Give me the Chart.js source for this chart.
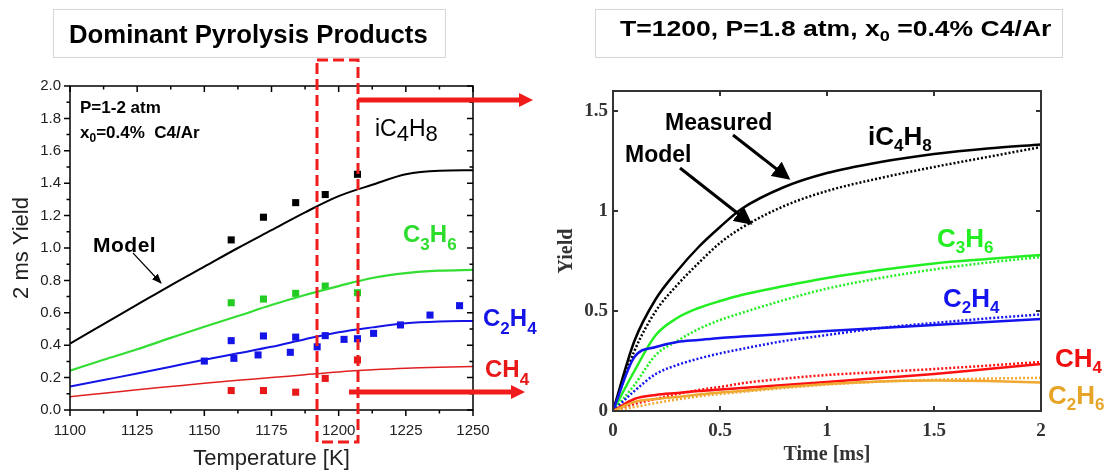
<!DOCTYPE html>
<html>
<head>
<meta charset="utf-8">
<script src="https://cdn.jsdelivr.net/npm/chart.js@4.4.1/dist/chart.umd.min.js"></script>
<style>
  body { margin: 0; width: 1107px; height: 473px; position: relative; overflow: hidden; background: #fff;
         font-family: "Liberation Sans", Arial, sans-serif; }
  .wrap { position: absolute; top: 0; }
  .tbox { position: absolute; border: 1px solid #d6d6d6; background: #fff; box-sizing: border-box; }
  .ttext { position: absolute; white-space: nowrap; font-weight: bold; line-height: 1; color: #000; transform-origin: 0 0; }
  .lab { position: absolute; white-space: nowrap; line-height: 1; }
  .b { font-weight: bold; }
  .s { position: relative; }
  svg { position: absolute; left: 0; top: 0; }
</style>
</head>
<body>
<div class="wrap" style="left:0;width:540px;height:473px"><canvas id="leftChart" width="540" height="473"></canvas></div>
<div class="wrap" style="left:540px;width:567px;height:473px"><canvas id="rightChart" width="567" height="473"></canvas></div>

<div class="tbox" style="left:53px;top:9px;width:393px;height:49px"></div>
<div class="tbox" style="left:595px;top:9px;width:468px;height:49px"></div>
<span class="ttext" id="titleL" style="font-size:25px">Dominant Pyrolysis Products</span>
<span class="ttext" id="titleR" style="font-size:22px">T=1200, P=1.8 atm, x<span class="s" style="font-size:15px;top:5px">0</span> =0.4% C4/Ar</span>

<svg width="1107" height="473">
  <defs>
    <marker id="headK" markerWidth="6" markerHeight="6" refX="5" refY="3" orient="auto" markerUnits="strokeWidth">
      <path d="M0,0 L6,3 L0,6 z" fill="#000"/>
    </marker>
    <marker id="headS" markerWidth="10" markerHeight="8" refX="9" refY="4" orient="auto" markerUnits="userSpaceOnUse">
      <path d="M0,0 L10,4 L0,8 z" fill="#000"/>
    </marker>
  </defs>
  <rect x="317" y="60" width="41" height="382" fill="none" stroke="#f01c1c" stroke-width="3" stroke-dasharray="11 5"/>
  <line x1="358" y1="100" x2="521" y2="100" stroke="#f01c1c" stroke-width="5"/>
  <path d="M519,93 L533,100 L519,107 z" fill="#f01c1c"/>
  <line x1="349" y1="392" x2="513" y2="392" stroke="#f01c1c" stroke-width="5"/>
  <path d="M511,385 L525,392 L511,399 z" fill="#f01c1c"/>
  <line x1="133" y1="253" x2="161" y2="283" stroke="#000" stroke-width="1.2" marker-end="url(#headS)"/>
  <line x1="733" y1="135" x2="788" y2="178" stroke="#000" stroke-width="3" marker-end="url(#headK)"/>
  <line x1="680" y1="168" x2="750" y2="223" stroke="#000" stroke-width="3" marker-end="url(#headK)"/>
</svg>

<!-- left panel notes -->
<div class="lab b" style="left:80px;top:99px;font-size:17px">P=1-2 atm</div>
<div class="lab b" style="left:80px;top:124px;font-size:17px">x<span class="s" style="font-size:12px;top:4px">0</span>=0.4%&nbsp; C4/Ar</div>
<div class="lab b" style="left:93px;top:234px;font-size:21px;letter-spacing:0.5px">Model</div>
<div class="lab" style="left:375px;top:117px;font-size:23px">iC<span class="s" style="font-size:22px;top:5px">4</span>H<span class="s" style="font-size:22px;top:5px">8</span></div>
<div class="lab b" style="left:403px;top:222px;font-size:24px;color:#2edc2e">C<span class="s" style="font-size:17px;top:8px">3</span>H<span class="s" style="font-size:17px;top:8px">6</span></div>
<div class="lab b" style="left:483px;top:306px;font-size:24px;color:#1414e6">C<span class="s" style="font-size:17px;top:8px">2</span>H<span class="s" style="font-size:17px;top:8px">4</span></div>
<div class="lab b" style="left:485px;top:357px;font-size:24px;color:#e81818">CH<span class="s" style="font-size:17px;top:8px">4</span></div>

<!-- right panel notes -->
<div class="lab b" style="left:665px;top:111px;font-size:23px">Measured</div>
<div class="lab b" style="left:625px;top:143px;font-size:23px">Model</div>
<div class="lab b" style="left:868px;top:123px;font-size:26px">iC<span class="s" style="font-size:17px;top:6px">4</span>H<span class="s" style="font-size:17px;top:6px">8</span></div>
<div class="lab b" style="left:937px;top:225px;font-size:26px;color:#22ee22">C<span class="s" style="font-size:17px;top:6px">3</span>H<span class="s" style="font-size:17px;top:6px">6</span></div>
<div class="lab b" style="left:943px;top:285px;font-size:26px;color:#1414ee">C<span class="s" style="font-size:17px;top:6px">2</span>H<span class="s" style="font-size:17px;top:6px">4</span></div>
<div class="lab b" style="left:1055px;top:345px;font-size:26px;color:#f01010">CH<span class="s" style="font-size:17px;top:6px">4</span></div>
<div class="lab b" style="left:1048px;top:382px;font-size:26px;color:#e6a526">C<span class="s" style="font-size:17px;top:6px">2</span>H<span class="s" style="font-size:17px;top:6px">6</span></div>

<script>
// ---- left panel: 2 ms yield vs temperature ----
const tempGrid = [1100, 1112.5, 1125, 1137.5, 1150, 1162.5, 1175, 1187.5, 1200, 1212.5, 1225, 1237.5, 1250];
const lineIC4H8 = [0.41, 0.53, 0.65, 0.77, 0.885, 1.0, 1.11, 1.22, 1.32, 1.39, 1.455, 1.477, 1.48];
const lineC3H6 = [0.243, 0.31, 0.375, 0.445, 0.514, 0.58, 0.648, 0.71, 0.765, 0.815, 0.845, 0.86, 0.865];
const lineC2H4 = [0.145, 0.185, 0.225, 0.267, 0.31, 0.35, 0.39, 0.437, 0.48, 0.51, 0.535, 0.546, 0.55];
const lineCH4 = [0.082, 0.103, 0.125, 0.145, 0.165, 0.183, 0.2, 0.218, 0.235, 0.248, 0.258, 0.264, 0.268];

const expTemps = [1160, 1172, 1184, 1195, 1207];
const ptsIC4H8 = [1.05, 1.19, 1.28, 1.33, 1.455];
const ptsC3H6 = [0.662, 0.685, 0.72, 0.765, 0.724];
const ptsCH4 = [0.12, 0.12, 0.11, 0.195, 0.309];
const c2h4Temps = [1150, 1160, 1161, 1172, 1170, 1184, 1182, 1192, 1195, 1202, 1207, 1213, 1223, 1234, 1245];
const ptsC2H4 = [0.302, 0.428, 0.319, 0.457, 0.34, 0.45, 0.356, 0.39, 0.459, 0.436, 0.44, 0.473, 0.525, 0.586, 0.644];

// ---- right panel: yield vs time at 1200 K ----
const timeMs = [0, 0.1, 0.2, 0.3, 0.4, 0.5, 0.6, 0.8, 1.0, 1.25, 1.5, 1.75, 2.0];
const measIC4H8 = [0, 0.35, 0.56, 0.70, 0.82, 0.92, 1.01, 1.12, 1.19, 1.245, 1.285, 1.313, 1.333];
const simIC4H8 = [0, 0.3, 0.5, 0.63, 0.74, 0.84, 0.915, 1.025, 1.10, 1.165, 1.22, 1.27, 1.32];
const measC3H6 = [0, 0.2, 0.38, 0.465, 0.515, 0.55, 0.58, 0.625, 0.665, 0.705, 0.738, 0.76, 0.78];
const simC3H6 = [0, 0.13, 0.28, 0.35, 0.41, 0.455, 0.49, 0.555, 0.612, 0.665, 0.708, 0.742, 0.77];
const measC2H4 = [0, 0.27, 0.32, 0.345, 0.355, 0.365, 0.372, 0.385, 0.40, 0.415, 0.43, 0.445, 0.46];
const simC2H4 = [0, 0.1, 0.185, 0.23, 0.262, 0.288, 0.31, 0.35, 0.38, 0.415, 0.44, 0.463, 0.483];
const measCH4 = [0, 0.06, 0.08, 0.09, 0.1, 0.107, 0.115, 0.13, 0.145, 0.165, 0.185, 0.21, 0.235];
const simCH4 = [0, 0.035, 0.06, 0.085, 0.105, 0.12, 0.138, 0.162, 0.18, 0.195, 0.21, 0.227, 0.245];
const measC2H6 = [0, 0.045, 0.06, 0.07, 0.082, 0.092, 0.1, 0.12, 0.135, 0.148, 0.153, 0.15, 0.142];
const simC2H6 = [0, 0.02, 0.04, 0.058, 0.073, 0.085, 0.095, 0.115, 0.132, 0.147, 0.156, 0.162, 0.166];

const sans = '"Liberation Sans", Arial, sans-serif';
const serif = '"Liberation Serif", "Times New Roman", serif';
const xy = (xs, ys) => xs.map((x, i) => ({ x, y: ys[i] }));

// box round the plot + tick marks (outside on bottom/left if o.outside)
const framePlugin = {
  id: "frame",
  afterDraw(chart, args, o) {
    const { ctx, chartArea: a } = chart;
    const sx = chart.scales.x, sy = chart.scales.y;
    const xt = sx.ticks.map((t) => sx.getPixelForValue(t.value));
    const yt = sy.ticks.map((t) => sy.getPixelForValue(t.value));
    const mids = (p) => p.slice(1).map((v, i) => (v + p[i]) / 2);
    const d = o.outside ? 1 : -1;
    ctx.save();
    ctx.strokeStyle = o.color;
    ctx.lineWidth = o.width;
    ctx.strokeRect(a.left, a.top, a.width, a.height);
    ctx.beginPath();
    const sets = [[xt, yt, o.major]];
    if (o.minor) sets.push([mids(xt), mids(yt), o.minor]);
    sets.forEach(([xs, ys, len]) => {
      xs.forEach((px) => {
        ctx.moveTo(px, a.bottom); ctx.lineTo(px, a.bottom + d * len);
        ctx.moveTo(px, a.top); ctx.lineTo(px, a.top + len);
      });
      ys.forEach((py) => {
        ctx.moveTo(a.left, py); ctx.lineTo(a.left - d * len, py);
        ctx.moveTo(a.right, py); ctx.lineTo(a.right - len, py);
      });
    });
    ctx.stroke();
    ctx.restore();
  },
};

function modelLine(data, color, width) {
  return { data, borderColor: color, borderWidth: width, pointRadius: 0, tension: 0.4, cubicInterpolationMode: "monotone" };
}
function expPoints(data, color) {
  return { data, showLine: false, pointStyle: "rect", pointRadius: 5, backgroundColor: color, borderWidth: 0 };
}

new Chart(document.getElementById("leftChart"), {
  type: "line",
  data: {
    datasets: [
      modelLine(xy(tempGrid, lineIC4H8), "#000", 2),
      modelLine(xy(tempGrid, lineC3H6), "#33dd33", 2.2),
      modelLine(xy(tempGrid, lineC2H4), "#1414e6", 2),
      modelLine(xy(tempGrid, lineCH4), "#e02020", 1.5),
      expPoints(xy(expTemps, ptsIC4H8), "#000"),
      expPoints(xy(expTemps, ptsC3H6), "#22cc22"),
      expPoints(xy(c2h4Temps, ptsC2H4), "#1414e6"),
      expPoints(xy(expTemps, ptsCH4), "#e81818"),
    ],
  },
  options: {
    responsive: false,
    animation: false,
    layout: { padding: { left: 0, top: 86, right: 67, bottom: 0 } },
    plugins: {
      legend: { display: false },
      tooltip: { enabled: false },
      frame: { color: "#000", width: 1.5, major: 6, minor: 3.5, outside: true },
    },
    scales: {
      x: {
        type: "linear", min: 1100, max: 1250,
        grid: { display: false, drawTicks: false }, border: { display: false },
        ticks: { stepSize: 25, padding: 12, color: "#222", font: { family: sans, size: 15 }, callback: (v) => String(v) },
        title: { display: true, text: "Temperature [K]", color: "#222", font: { family: sans, size: 22 }, padding: { top: 0, bottom: 1 } },
        afterFit: (s) => { s.height = 63; },
      },
      y: {
        min: 0, max: 2,
        grid: { display: false, drawTicks: false }, border: { display: false },
        ticks: { stepSize: 0.2, padding: 9, color: "#222", font: { family: sans, size: 15 }, callback: (v) => v.toFixed(1) },
        title: { display: true, text: "2 ms Yield", color: "#222", font: { family: sans, size: 22 }, padding: { top: 9, bottom: 0 } },
        afterFit: (s) => { s.width = 70; },
      },
    },
  },
  plugins: [framePlugin],
});

function timeLine(data, color, dotted) {
  return {
    data, borderColor: color, borderWidth: 2.5, borderDash: dotted ? [2, 2] : [],
    pointRadius: 0, tension: 0.4, cubicInterpolationMode: "monotone",
  };
}

new Chart(document.getElementById("rightChart"), {
  type: "line",
  data: {
    datasets: [
      timeLine(xy(timeMs, simC2H6), "#f0a830", true),
      timeLine(xy(timeMs, measC2H6), "#f0a830", false),
      timeLine(xy(timeMs, simCH4), "#ff1010", true),
      timeLine(xy(timeMs, measCH4), "#ff1010", false),
      timeLine(xy(timeMs, simC2H4), "#1414ee", true),
      timeLine(xy(timeMs, measC2H4), "#1414ee", false),
      timeLine(xy(timeMs, simC3H6), "#22ee22", true),
      timeLine(xy(timeMs, measC3H6), "#22ee22", false),
      timeLine(xy(timeMs, simIC4H8), "#000", true),
      timeLine(xy(timeMs, measIC4H8), "#000", false),
    ],
  },
  options: {
    responsive: false,
    animation: false,
    layout: { padding: { left: 0, top: 91, right: 66, bottom: 0 } },
    plugins: {
      legend: { display: false },
      tooltip: { enabled: false },
      frame: { color: "#333", width: 2, major: 5, minor: 0, outside: false },
    },
    scales: {
      x: {
        type: "linear", min: 0, max: 2,
        grid: { display: false, drawTicks: false }, border: { display: false },
        ticks: { stepSize: 0.5, padding: 9, color: "#333", font: { family: serif, size: 19, weight: "bold" }, callback: (v) => String(v) },
        title: { display: true, text: "Time [ms]", color: "#333", font: { family: serif, size: 20, weight: "bold" }, padding: { top: 0, bottom: 6 } },
        afterFit: (s) => { s.height = 62; },
      },
      y: {
        min: 0, max: 1.6,
        grid: { display: false, drawTicks: false }, border: { display: false },
        ticks: { stepSize: 0.5, includeBounds: false, padding: 5, color: "#333", font: { family: serif, size: 19, weight: "bold" }, callback: (v) => String(v) },
        title: { display: true, text: "Yield", color: "#333", font: { family: serif, size: 20, weight: "bold" }, padding: { top: 15, bottom: 0 } },
        afterFit: (s) => { s.width = 73; },
      },
    },
  },
  plugins: [framePlugin],
});

// stretch the two headings to the width they have in the picture
function fitTitle(id, x0, x1, baseline) {
  const el = document.getElementById(id);
  const fs = parseFloat(el.style.fontSize);
  el.style.left = x0 + "px";
  el.style.top = (baseline - 0.8465 * fs) + "px";
  el.style.transform = "scaleX(" + ((x1 - x0) / el.offsetWidth) + ")";
}
fitTitle("titleL", 69, 428, 43);
fitTitle("titleR", 620, 1052, 37);
</script>
</body>
</html>
